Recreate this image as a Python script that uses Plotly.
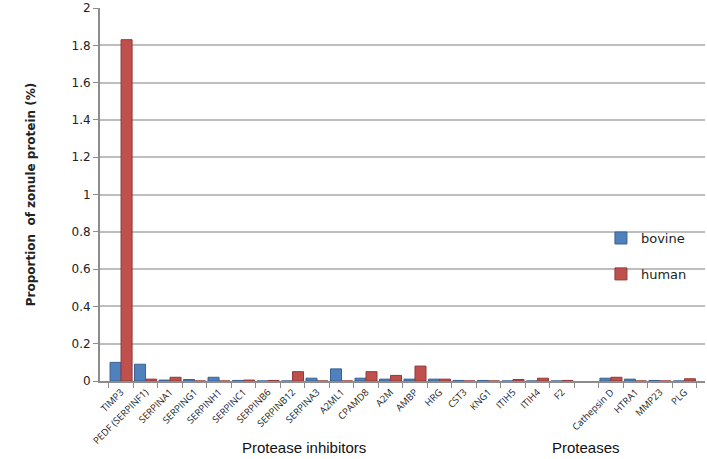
import plotly.graph_objects as go

proteins = [
    "TIMP3", "PEDF (SERPINF1)", "SERPINA1", "SERPING1", "SERPINH1", "SERPINC1",
    "SERPINB6", "SERPINB12", "SERPINA3", "A2ML1", "CPAMD8", "A2M", "AMBP", "HRG",
    "CST3", "KNG1", "ITIH5", "ITIH4", "F2", " ", "Cathepsin D", "HTRA1", "MMP23", "PLG",
]
bovine = [0.10, 0.09, 0.005, 0.008, 0.02, 0.003, 0, 0, 0.015, 0.065, 0.015, 0.01,
          0.01, 0.01, 0.003, 0.003, 0, 0, 0, None, 0.015, 0.01, 0.003, 0]
human = [1.83, 0.01, 0.02, 0, 0, 0.005, 0.003, 0.05, 0, 0, 0.05, 0.03,
         0.08, 0.01, 0, 0, 0.008, 0.015, 0.003, None, 0.02, 0, 0, 0.012]

fig = go.Figure()
fig.add_trace(go.Bar(x=proteins, y=bovine, name="bovine", legendgroup="b",
                     marker=dict(color="#4F81BD", line=dict(color="#3A6190", width=1))))
fig.add_trace(go.Bar(x=proteins, y=human, name="human", legendgroup="h",
                     marker=dict(color="#C0504D", line=dict(color="#8E3A38", width=1))))

fig.update_layout(
    width=707, height=459,
    margin=dict(l=100, r=2, t=8, b=78),
    paper_bgcolor="white", plot_bgcolor="white",
    barmode="group", bargap=0.1, bargroupgap=0,
    font=dict(family="DejaVu Sans", color="#222222"),
    legend=dict(x=0.828, y=0.335, xanchor="left", yanchor="middle",
                font=dict(size=13, family="DejaVu Sans"), traceorder="grouped",
                bgcolor="rgba(0,0,0,0)", tracegroupgap=16, itemwidth=30),
    showlegend=True,
)
fig.update_yaxes(
    range=[0, 2], dtick=0.2, showgrid=True, gridcolor="#BEBEBE", gridwidth=1.5,
    showline=True, linecolor="#8C8C8C", linewidth=2, ticks="outside", ticklen=5,
    tickcolor="#8C8C8C", tickfont=dict(size=12, family="DejaVu Sans"),
    title=dict(text="<b>Proportion  of zonule protein (%)</b>",
               font=dict(size=12, family="DejaVu Sans"), standoff=33),
    zeroline=False,
)
fig.update_xaxes(
    range=[-0.86, 23.84],
    showline=True, linecolor="#8C8C8C", linewidth=2, ticks="outside", ticklen=5,
    tickcolor="#8C8C8C", tickson="boundaries", tickangle=-45,
    tickfont=dict(size=9.5, family="Open Sans", color="#1a1a1a"),
)
fig.add_annotation(text="Protease inhibitors", x=0.232, y=-0.15, xref="paper", yref="paper",
                   showarrow=False, yanchor="top",
                   font=dict(size=15, family="Liberation Sans", color="#111111"))
fig.add_annotation(text="Proteases", x=0.862, y=-0.15, xref="paper", yref="paper",
                   showarrow=False, yanchor="top",
                   font=dict(size=15, family="Liberation Sans", color="#111111"))

# drop the default 8px page margin so the figure sits flush in the window
fig.write_html("out.html", config={"displayModeBar": False},
               post_script="document.body.style.margin='0';")
